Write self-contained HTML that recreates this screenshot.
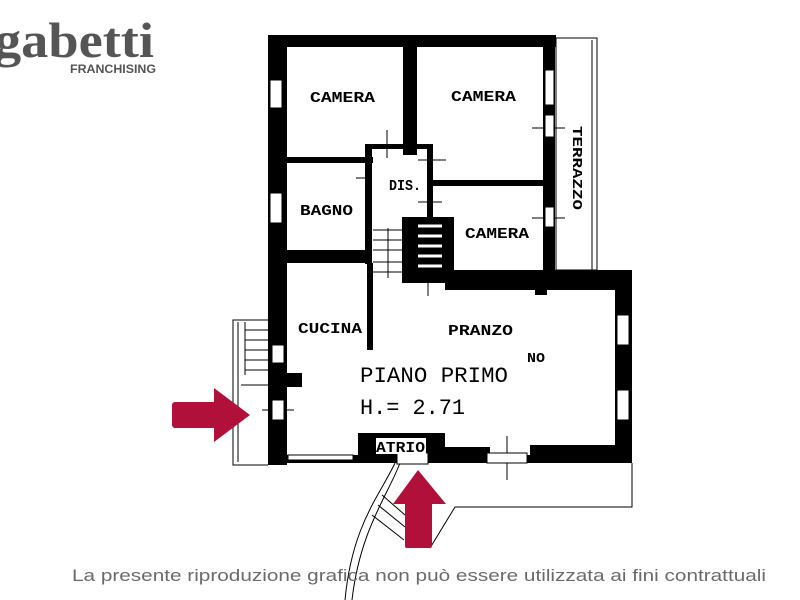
<!DOCTYPE html>
<html><head><meta charset="utf-8"><style>
html,body{margin:0;padding:0;background:#fff;width:800px;height:600px;overflow:hidden}
svg{display:block}
.l{font-family:"Liberation Mono",monospace;font-weight:bold;fill:#000}
</style></head><body>
<svg width="800" height="600" viewBox="0 0 800 600" xmlns="http://www.w3.org/2000/svg">
<!-- logo -->
<text x="-6" y="57" font-family="Liberation Serif,serif" font-weight="bold" font-size="50" fill="#555" textLength="160" lengthAdjust="spacingAndGlyphs">gabetti</text>
<text x="70" y="73" font-family="Liberation Sans,sans-serif" font-weight="bold" font-size="12" fill="#555" textLength="86" lengthAdjust="spacingAndGlyphs">FRANCHISING</text>

<g fill="#000">
<rect x="268" y="35" width="288" height="12"/>
<rect x="268" y="35" width="19" height="430"/>
<rect x="403" y="35" width="14" height="120"/>
<rect x="543" y="35" width="12" height="240"/>
<rect x="268" y="157" width="105" height="6"/>
<rect x="365" y="144" width="67" height="5"/>
<rect x="365" y="144" width="7" height="120"/>
<rect x="427" y="144" width="6" height="75"/>
<rect x="427" y="180" width="116" height="6"/>
<rect x="402" y="217" width="52" height="66"/>
<rect x="268" y="250" width="104" height="13"/>
<rect x="445" y="270" width="187" height="20"/>
<rect x="535" y="270" width="12" height="25"/>
<rect x="615" y="270" width="17" height="193"/>
<rect x="268" y="455" width="364" height="8"/>
<rect x="358" y="433" width="87" height="30"/>
<rect x="445" y="447" width="45" height="16"/>
<rect x="530" y="445" width="90" height="18"/>
<rect x="367" y="263" width="6" height="87"/>
<rect x="285" y="373" width="17" height="14"/>
</g>
<g stroke="#fff" stroke-width="3">
<line x1="418" y1="226" x2="442" y2="226"/><line x1="418" y1="236" x2="442" y2="236"/><line x1="418" y1="246" x2="442" y2="246"/><line x1="418" y1="256" x2="442" y2="256"/><line x1="418" y1="266" x2="442" y2="266"/>
</g>
<g stroke="#000" stroke-width="1" fill="none">
<line x1="373" y1="230" x2="402" y2="230"/><line x1="373" y1="240" x2="402" y2="240"/><line x1="373" y1="250" x2="402" y2="250"/><line x1="373" y1="262" x2="402" y2="262"/><line x1="373" y1="272" x2="402" y2="272"/>
<line x1="388" y1="228" x2="388" y2="278"/>
<rect x="556" y="38" width="41" height="232"/>
<line x1="592" y1="40" x2="592" y2="270"/>
<polyline points="268,320 233,320 233,465 268,465"/>
<line x1="238" y1="322" x2="238" y2="462"/>
<line x1="241" y1="385" x2="268" y2="385"/>
<line x1="245" y1="330" x2="268" y2="330"/><line x1="245" y1="340" x2="268" y2="340"/><line x1="245" y1="350" x2="268" y2="350"/><line x1="245" y1="360" x2="268" y2="360"/><line x1="245" y1="370" x2="268" y2="370"/>
<line x1="245" y1="322" x2="245" y2="375"/>
<polyline points="632,463 632,507 455,507 430,548"/>
<path d="M395,463 C380,495 352,525 345,600"/>
<path d="M400,463 C388,495 360,530 352,600"/>
<line x1="382" y1="495" x2="405" y2="515"/>
<line x1="378" y1="505" x2="405" y2="527"/>
<line x1="372" y1="515" x2="404" y2="540"/>
<line x1="532" y1="128" x2="565" y2="128"/>
<line x1="532" y1="218" x2="565" y2="218"/>
<line x1="430" y1="158" x2="430" y2="172"/>
<line x1="418" y1="160" x2="446" y2="160"/>
<line x1="418" y1="202" x2="442" y2="202"/>
<line x1="387" y1="130" x2="387" y2="158"/>
<line x1="356" y1="178" x2="372" y2="178"/>
<line x1="428" y1="270" x2="428" y2="296"/>
<line x1="262" y1="410" x2="294" y2="410"/>
<line x1="507" y1="436" x2="507" y2="480"/>
</g>
<g fill="#fff" stroke="#000" stroke-width="1">
<rect x="270" y="80" width="12" height="28"/>
<rect x="270" y="193" width="12" height="30"/>
<rect x="545" y="70" width="9" height="35"/>
<rect x="545" y="115" width="9" height="22"/>
<rect x="545" y="207" width="9" height="20"/>
<rect x="617" y="315" width="12" height="30"/>
<rect x="617" y="390" width="12" height="30"/>
<rect x="272" y="345" width="12" height="18"/>
<rect x="272" y="400" width="12" height="20"/>
<rect x="288" y="455" width="65" height="5"/>
<rect x="487" y="453" width="40" height="10"/>
<rect x="397" y="453" width="31" height="11"/>
</g>
<rect x="376" y="438" width="50" height="16" fill="#fff"/>
<text class="l" x="310" y="102" font-size="15" textLength="65" lengthAdjust="spacingAndGlyphs">CAMERA</text>
<text class="l" x="451" y="101" font-size="15" textLength="65" lengthAdjust="spacingAndGlyphs">CAMERA</text>
<text class="l" x="465" y="238" font-size="15" textLength="64" lengthAdjust="spacingAndGlyphs">CAMERA</text>
<text class="l" x="300" y="215" font-size="15" textLength="53" lengthAdjust="spacingAndGlyphs">BAGNO</text>
<text class="l" x="389" y="190" font-size="15" textLength="32" lengthAdjust="spacingAndGlyphs">DIS.</text>
<text class="l" x="298" y="333" font-size="15" textLength="64" lengthAdjust="spacingAndGlyphs">CUCINA</text>
<text class="l" x="448" y="335" font-size="15" textLength="65" lengthAdjust="spacingAndGlyphs">PRANZO</text>
<text class="l" x="527" y="362" font-size="14" textLength="18" lengthAdjust="spacingAndGlyphs">NO</text>
<text class="l" transform="translate(573,126) rotate(90)" font-size="14" textLength="84" lengthAdjust="spacingAndGlyphs">TERRAZZO</text>
<text x="360" y="382" font-family="Liberation Mono,monospace" font-size="22" fill="#000" textLength="148" lengthAdjust="spacingAndGlyphs">PIANO PRIMO</text>
<text x="360" y="414" font-family="Liberation Mono,monospace" font-size="22" fill="#000" textLength="105" lengthAdjust="spacingAndGlyphs">H.= 2.71</text>
<text class="l" x="376" y="452" font-size="15" textLength="49" lengthAdjust="spacingAndGlyphs">ATRIO</text>
<g fill="#b0103a">
<rect x="172" y="402" width="46" height="26" rx="3"/>
<polygon points="214,388 250,415 214,442"/>
<rect x="405" y="500" width="27" height="48" rx="2"/>
<polygon points="393,504 418,470 446,504"/>
</g>
<text x="419" y="581" text-anchor="middle" font-family="Liberation Sans,sans-serif" font-size="17" fill="#6a6a6a" textLength="694" lengthAdjust="spacingAndGlyphs">La presente riproduzione grafica non può essere utilizzata ai fini contrattuali</text>
</svg>
</body></html>
